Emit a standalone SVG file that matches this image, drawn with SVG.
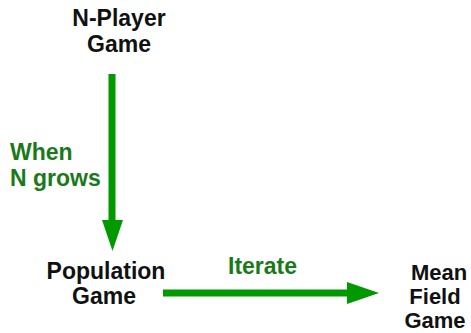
<svg xmlns="http://www.w3.org/2000/svg" width="471" height="333" viewBox="0 0 471 333">
<style>
.n{font-family:"Liberation Sans",Arial,sans-serif;font-weight:bold;font-size:23px;fill:#111;text-anchor:middle}
.m{font-size:22px}
.l{font-family:"Liberation Sans",Arial,sans-serif;font-weight:bold;font-size:23px;fill:#1a7a1a}
.c{stroke:#009900;stroke-width:7;fill:none}
.h{fill:#009900}
</style>
<rect width="471" height="333" fill="#fff"/>
<g id="nplayer"><text class="n" x="119" y="26">N-Player</text><text class="n" x="119" y="52">Game</text></g>
<g id="population"><text class="n" x="106" y="279">Population</text><text class="n" x="104" y="304">Game</text></g>
<g id="meanfield"><text class="n m" x="439" y="280">Mean</text><text class="n m" x="435" y="304">Field</text><text class="n m" x="435" y="328">Game</text></g>
<g id="connectors">
<line class="c" x1="112" y1="74" x2="112" y2="222"/>
<polygon class="h" points="102,220 123,220 112.5,251"/>
<text class="l" x="10" y="160">When</text><text class="l" x="10" y="186">N grows</text>
<line class="c" x1="163" y1="293" x2="349" y2="293"/>
<polygon class="h" points="347,282 347,304 379,293"/>
<text class="l" x="228" y="274">Iterate</text>
</g>
</svg>
